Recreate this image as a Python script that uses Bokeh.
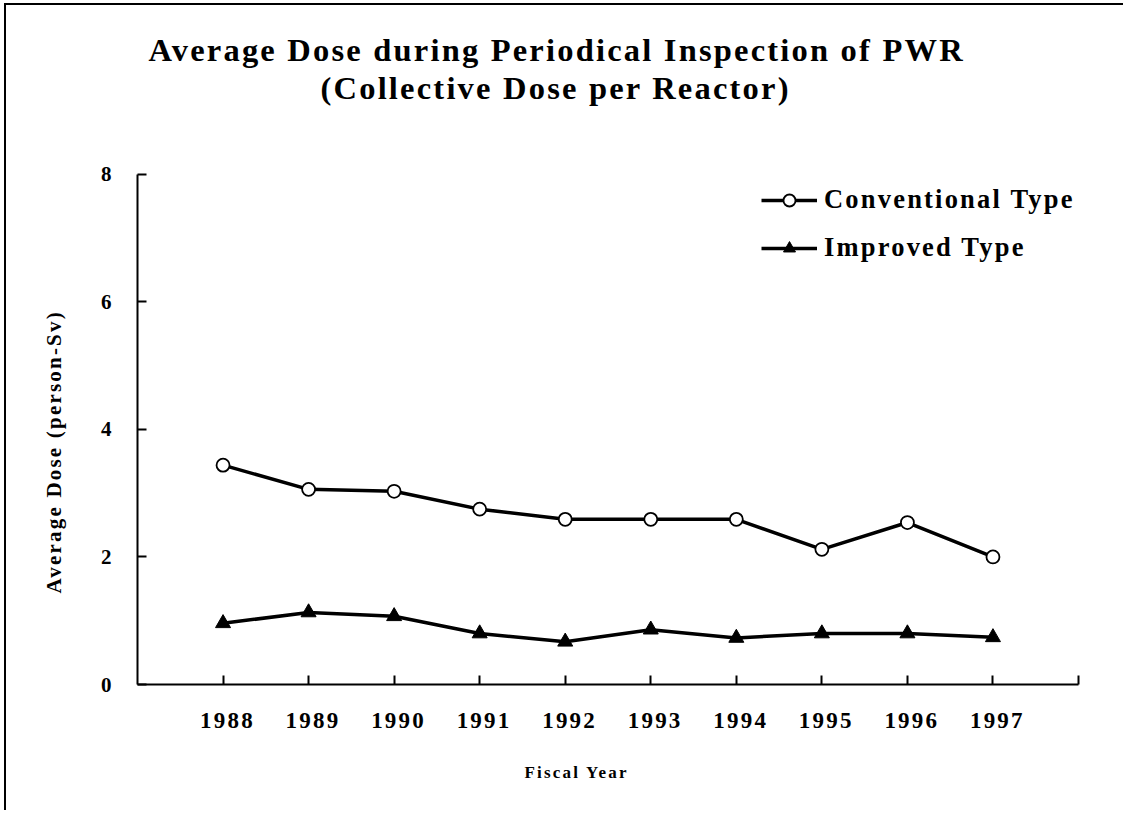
from bokeh.plotting import figure
from bokeh.models import Range1d, FixedTicker, Legend, LegendItem, Title
from bokeh.embed import file_html
from bokeh.resources import INLINE

years = [1988, 1989, 1990, 1991, 1992, 1993, 1994, 1995, 1996, 1997]
conventional = [3.44, 3.06, 3.03, 2.75, 2.59, 2.59, 2.59, 2.12, 2.54, 2.00]
improved = [0.96, 1.13, 1.07, 0.80, 0.67, 0.86, 0.73, 0.80, 0.80, 0.74]
y_ticks = [0, 2, 4, 6, 8]
x_ticks = [1988, 1989, 1990, 1991, 1992, 1993, 1994, 1995, 1996, 1997, 1998]

title_line1 = "Average Dose during Periodical Inspection of PWR"
title_line2 = "(Collective Dose per Reactor)"
y_title = "Average Dose (person-Sv)"
x_title = "Fiscal Year"
series_names = ["Conventional Type", "Improved Type"]

FONT = "Liberation Serif"

p = figure(width=1119, height=807, output_backend="svg", toolbar_location=None,
           x_range=Range1d(1987, 1998), y_range=Range1d(0, 9.08),
           min_border_left=131, min_border_right=47, min_border_top=100, min_border_bottom=128)
p.styles = {"letter-spacing": "2.2px", "margin-left": "4px", "margin-top": "3px",
            "border-left": "2px solid black", "border-top": "2px solid black"}
p.outline_line_color = None
p.background_fill_color = "white"
p.border_fill_color = "white"
p.xgrid.visible = False
p.ygrid.visible = False


def make_title(text, size, offset, standoff, align="left"):
    return Title(text=text, align=align, text_font=FONT, text_font_size=size,
                 text_font_style="bold", text_color="black", offset=offset, standoff=standoff)


p.add_layout(make_title(title_line2, "32.5px", 183, 0), "above")
p.add_layout(make_title(title_line1, "32.5px", 11, 0), "above")

for ax in (p.xaxis[0], p.yaxis[0]):
    ax.axis_line_width = 2
    ax.axis_line_color = "black"
    ax.major_tick_line_width = 2
    ax.major_tick_line_color = "black"
    ax.major_tick_in = 9
    ax.major_tick_out = 0
    ax.minor_tick_line_color = None
    ax.major_label_text_font = FONT
    ax.major_label_text_font_style = "bold"
    ax.major_label_text_color = "black"

p.yaxis.ticker = FixedTicker(ticks=y_ticks)
p.yaxis.bounds = (0, 8)
p.yaxis.major_label_text_font_size = "21px"
p.yaxis.major_label_standoff = 26
p.xaxis.ticker = FixedTicker(ticks=x_ticks)
p.xaxis.major_label_overrides = {1998: ""}
p.xaxis.major_label_text_font_size = "23px"
p.xaxis.major_label_standoff = 28

p.add_layout(make_title(y_title, "21px", 91, 63), "left")
p.add_layout(make_title(x_title, "17px", 387, 60), "below")

l1 = p.line(years, conventional, line_color="black", line_width=3.5)
s1 = p.scatter(years, conventional, marker="circle", size=13, fill_color="white",
               line_color="black", line_width=1.8)
l2 = p.line(years, improved, line_color="black", line_width=3.5)
s2 = p.scatter(years, improved, marker="triangle", size=15, fill_color="black",
               line_color="black", line_width=1)

legend = Legend(items=[LegendItem(label=series_names[0], renderers=[l1, s1]),
                       LegendItem(label=series_names[1], renderers=[l2, s2])],
                location=(624, 421), padding=0, spacing=17, glyph_width=56, glyph_height=30,
                label_height=30, label_standoff=7, label_text_font=FONT,
                label_text_font_size="26.5px", label_text_font_style="bold",
                label_text_color="black", background_fill_alpha=0, border_line_color=None)
p.add_layout(legend)

open("out.html", "w").write(file_html(p, INLINE))
